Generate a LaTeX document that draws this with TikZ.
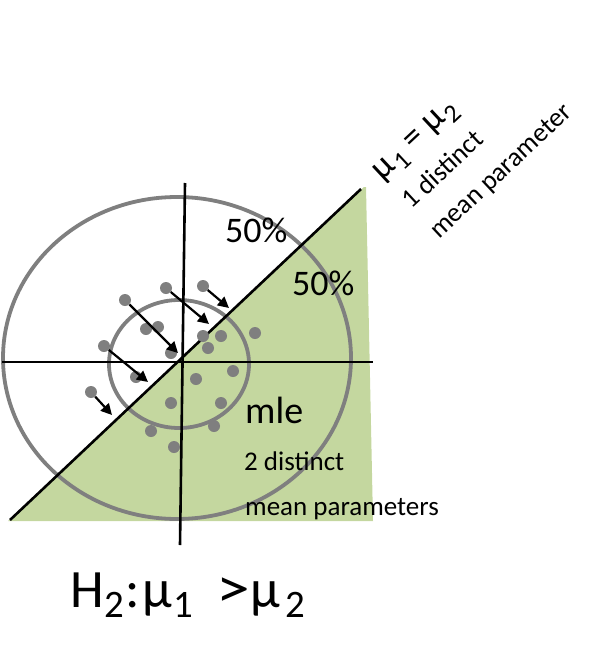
\documentclass[tikz,border=0pt]{standalone}
\usepackage{fontspec}
\setmainfont{Carlito}
\usetikzlibrary{arrows.meta}
\definecolor{fieldgreen}{HTML}{C4D79F}
\definecolor{ringgray}{HTML}{7F7F7F}
\newcommand\lowidx[1]{\raisebox{-0.2em}{\scalebox{0.72}{#1}}}
\newcommand\cell[2]{\makebox[#1][l]{#2}}
\begin{document}
\begin{tikzpicture}[x=1pt,y=-1pt,
  ring/.style={draw=ringgray,line width=3.8pt},
  axis/.style={draw=black,line width=2.6pt},
  pt/.style={circle,fill=ringgray,inner sep=0pt,minimum size=12pt},
  shiftarrow/.style={draw=black,line width=2.2pt,-{Triangle[length=11pt,width=11pt]}},
  bigtxt/.style={font=\fontsize{36}{40}\selectfont,inner sep=0pt,anchor=base west},
  smalltxt/.style={font=\fontsize{27}{30}\selectfont,inner sep=0pt,anchor=base west},
  rottxt/.style={inner sep=0pt,rotate=43}]
\useasboundingbox (0,0) rectangle (605,656);
% green half-plane
\fill[fieldgreen] (8,521) -- (364,187) -- (366,187) -- (373,521) -- cycle;
% ellipses
\draw[ring] (177,358) ellipse [x radius=174, y radius=161];
\draw[ring] (179,364) ellipse [x radius=70, y radius=64];
% axes
\coordinate (vtop) at (185,183);
\coordinate (vbot) at (180,545);
\coordinate (hl) at (2,362);
\coordinate (hr) at (373,362);
\coordinate (dl) at (10,520);
\coordinate (dr) at (361,189);
\draw[axis] (vtop) -- (vbot);
\draw[axis] (hl) -- (hr);
\draw[axis] (dl) -- (dr);
% dots
\node[pt] (p1) at (125,300) {};
\node[pt] (p2) at (166,288) {};
\node[pt] (p3) at (203,286) {};
\node[pt] (p4) at (146,329) {};
\node[pt] (p5) at (158,327) {};
\node[pt] (p6) at (171,353) {};
\node[pt] (p7) at (104,346) {};
\node[pt] (p8) at (136,377) {};
\node[pt] (p9) at (91,392) {};
\node[pt] (p10) at (203,336) {};
\node[pt] (p11) at (221,336) {};
\node[pt] (p12) at (208,348) {};
\node[pt] (p13) at (255,333) {};
\node[pt] (p14) at (233,371) {};
\node[pt] (p15) at (196,379) {};
\node[pt] (p16) at (171,403) {};
\node[pt] (p17) at (221,403) {};
\node[pt] (p18) at (151,431) {};
\node[pt] (p19) at (214,426) {};
\node[pt] (p20) at (174,447) {};
% projections
\coordinate (q1) at (178,353);
\coordinate (q2) at (209,324);
\coordinate (q3) at (229,308);
\coordinate (q7) at (148,382);
\coordinate (q9) at (112,415);
\draw[shiftarrow] (p1) -- (q1);
\draw[shiftarrow] (p2) -- (q2);
\draw[shiftarrow] (p3) -- (q3);
\draw[shiftarrow] (p7) -- (q7);
\draw[shiftarrow] (p9) -- (q9);
% labels
\node[bigtxt] (pctA) at (225,242) {50\%};
\node[bigtxt] (pctB) at (292,295) {50\%};
\node[bigtxt,font=\fontsize{38}{42}\selectfont] (mle) at (245,423) {mle};
\node[smalltxt] (twod) at (244,470) {2 distinct};
\node[smalltxt] (twom) at (245,515) {mean parameters};
\node[rottxt,font=\fontsize{36}{40}\selectfont] (eq) at (417,142) {μ\hspace{2pt}\lowidx{1} = μ\hspace{2pt}\lowidx{2}};
\node[rottxt,font=\fontsize{27}{30}\selectfont] (oned) at (442,169) {1 distinct};
\node[rottxt,font=\fontsize{27}{30}\selectfont] (onem) at (502,172) {mean parameter};
\node[inner sep=0pt,anchor=base west,font=\fontsize{54}{60}\selectfont] (hyp) at (70,607)
  {\cell{34pt}{H}\cell{21pt}{\lowidx{2}}\cell{17pt}{:}\cell{31pt}{μ}\cell{43pt}{\lowidx{1}}\cell{34pt}{\scalebox{1.25}[1.05]{>}}\cell{35pt}{μ}\lowidx{2}};
\end{tikzpicture}
\end{document}
